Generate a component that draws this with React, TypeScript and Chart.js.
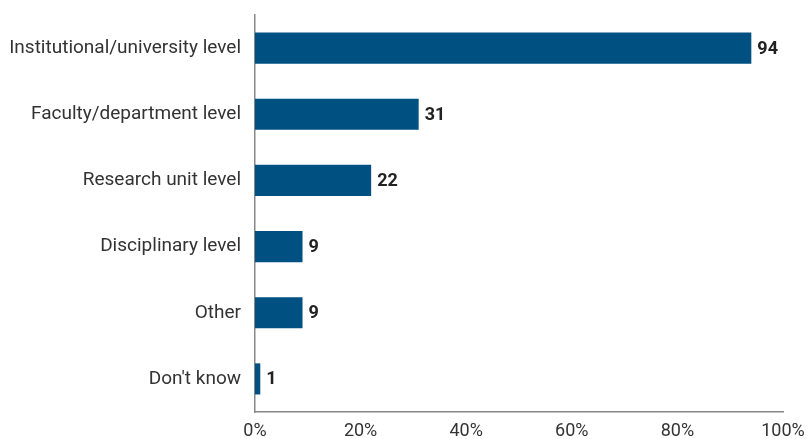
import React, { useEffect, useRef } from 'react';
import Chart from 'chart.js/auto';

const categories = [
  'Institutional/university level',
  'Faculty/department level',
  'Research unit level',
  'Disciplinary level',
  'Other',
  "Don't know"
];
const values = [94, 31, 22, 9, 9, 1];
const xTicks = [0, 20, 40, 60, 80, 100];

const BAR_COLOR = '#005082';
const FONT = 'Roboto, "DejaVu Sans", sans-serif';

const valueLabels = {
  id: 'valueLabels',
  afterDatasetsDraw(chart: Chart) {
    const ctx = chart.ctx;
    const meta = chart.getDatasetMeta(0);
    ctx.save();
    ctx.font = `bold 18px ${FONT}`;
    ctx.fillStyle = '#222222';
    ctx.textAlign = 'left';
    ctx.textBaseline = 'middle';
    meta.data.forEach((bar: any, i: number) => {
      ctx.fillText(String(values[i]), bar.x + 6, bar.y + 1);
    });
    ctx.restore();
  }
};

export default function App() {
  const canvasRef = useRef<HTMLCanvasElement | null>(null);

  useEffect(() => {
    if (!canvasRef.current) return;
    const chart = new Chart(canvasRef.current, {
      type: 'bar',
      data: {
        labels: categories,
        datasets: [
          {
            data: values,
            backgroundColor: BAR_COLOR,
            borderWidth: 0,
            categoryPercentage: 1,
            barPercentage: 0.47
          }
        ]
      },
      options: {
        indexAxis: 'y',
        animation: false,
        responsive: false,
        maintainAspectRatio: false,
        layout: {
          padding: { top: 15, right: 25, left: 0, bottom: 0 }
        },
        plugins: {
          legend: { display: false },
          tooltip: { enabled: false }
        },
        scales: {
          x: {
            min: 0,
            max: 100,
            afterBuildTicks: (scale: any) => {
              scale.ticks = xTicks.map((v) => ({ value: v }));
            },
            grid: { display: false, drawTicks: false },
            border: { display: true, color: '#888888', width: 1.5 },
            ticks: {
              color: '#333333',
              padding: 9,
              font: { family: FONT, size: 18 },
              callback: (v: any) => `${v}%`
            },
            afterFit: (scale: any) => {
              scale.height = 27;
              scale.paddingLeft = 0;
              scale.paddingRight = 0;
            }
          },
          y: {
            grid: { display: false, drawTicks: false },
            border: { display: true, color: '#888888', width: 1.5 },
            ticks: {
              color: '#333333',
              padding: 14,
              font: { family: FONT, size: 19 }
            },
            afterFit: (scale: any) => {
              scale.width = 255;
              scale.paddingTop = 0;
              scale.paddingBottom = 0;
            }
          }
        }
      },
      plugins: [valueLabels]
    });
    return () => chart.destroy();
  }, []);

  return (
    <div style={{ position: 'fixed', left: 0, top: 0, width: 808, height: 439, background: '#fff' }}>
      <canvas ref={canvasRef} width={808} height={439} />
    </div>
  );
}
